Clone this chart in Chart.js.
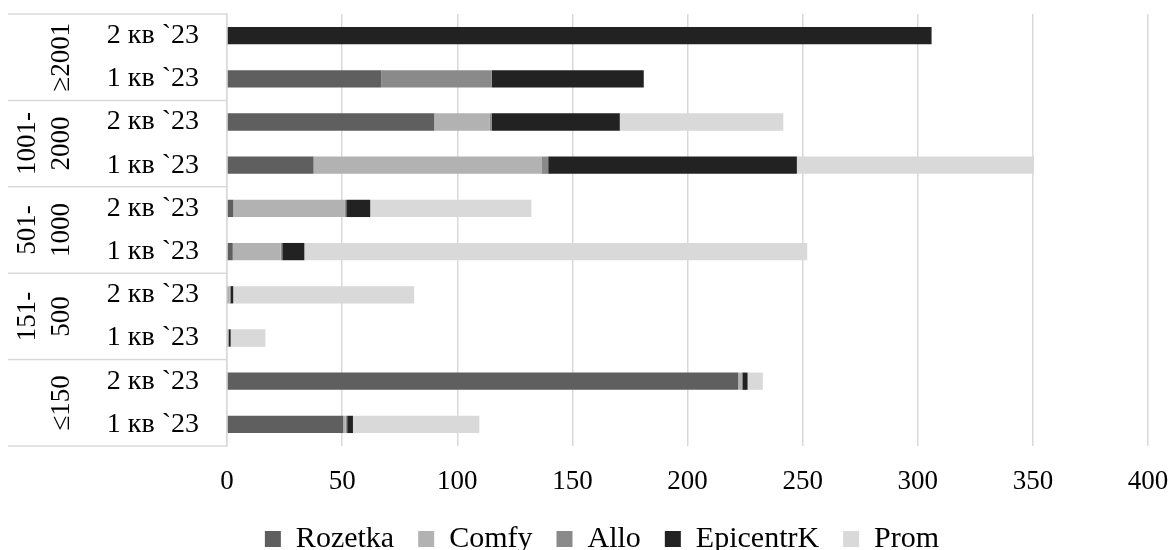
<!DOCTYPE html>
<html>
<head>
<meta charset="utf-8">
<script src="https://cdn.jsdelivr.net/npm/chart.js@4/dist/chart.umd.min.js"></script>
<style>
  body { margin: 0; background: #fff; }
  #wrap { width: 1172px; height: 550px; }
</style>
</head>
<body>
<div id="wrap"><canvas id="salesChart"></canvas></div>
<script>
// groups of sellers by price range, top to bottom
const groups = [['≥2001'], ['1001-', '2000'], ['501-', '1000'], ['151-', '500'], ['≤150']];
const quarters = ['2 кв `23', '1 кв `23'];

const rozetka   = [0,   67, 90,   37.6, 2.7,  2.5,   0.5,  0.3,  222, 50.5];
const comfy     = [0,   0,  24,   99.2, 48.5, 20.8,  0.7,  0.2,  1.8, 1.0];
const allo      = [0,   48, 0.9,  2.7,  0.6,  0.7,   0.3,  0.2,  0,   0.7];
const epicentrK = [306, 66, 55.7, 108,  10.4, 9.6,   1.2,  0.9,  2.3, 2.5];
const prom      = [0,   0,  71,   103,  70,   218.4, 78.6, 15.1, 6.6, 54.9];

const xTicks = [0, 50, 100, 150, 200, 250, 300, 350, 400];

const labels = [];
groups.forEach(() => quarters.forEach(q => labels.push(q)));

const serif = 'Liberation Serif';

// draws the grouping column on the left of the y axis
const groupLabels = {
  id: 'groupLabels',
  afterDraw(chart) {
    const ctx = chart.ctx;
    const y = chart.scales.y;
    const area = chart.chartArea;
    const per = quarters.length;
    ctx.save();
    ctx.strokeStyle = '#d9d9d9';
    ctx.lineWidth = 1.5;
    for (let g = 0; g <= groups.length; g++) {
      let yy;
      if (g === 0) yy = area.top;
      else if (g === groups.length) yy = area.bottom;
      else yy = (y.getPixelForTick(g * per - 1) + y.getPixelForTick(g * per)) / 2;
      ctx.beginPath();
      ctx.moveTo(8, yy);
      ctx.lineTo(area.left, yy);
      ctx.stroke();
    }
    ctx.fillStyle = '#000';
    ctx.font = '27px "' + serif + '"';
    ctx.textAlign = 'center';
    ctx.textBaseline = 'middle';
    groups.forEach((lines, g) => {
      const cy = (y.getPixelForTick(g * per) + y.getPixelForTick(g * per + per - 1)) / 2;
      lines.forEach((txt, i) => {
        const cx = 62 - (lines.length - 1 - i) * 34;
        ctx.save();
        ctx.translate(cx, cy);
        ctx.rotate(-Math.PI / 2);
        ctx.fillText(txt, 0, 0);
        ctx.restore();
      });
    });
    ctx.restore();
  }
};

new Chart(document.getElementById('salesChart'), {
  type: 'bar',
  data: {
    labels: labels,
    datasets: [
      { label: 'Rozetka', data: rozetka, backgroundColor: '#5f5f5f' },
      { label: 'Comfy', data: comfy, backgroundColor: '#b2b2b2' },
      { label: 'Allo', data: allo, backgroundColor: '#8a8a8a' },
      { label: 'EpicentrK', data: epicentrK, backgroundColor: '#222222' },
      { label: 'Prom', data: prom, backgroundColor: '#d9d9d9' }
    ]
  },
  options: {
    indexAxis: 'y',
    responsive: true,
    maintainAspectRatio: false,
    animation: false,
    categoryPercentage: 1,
    barPercentage: 0.4,
    layout: { padding: { left: 56, right: 24, top: 14, bottom: -14 } },
    scales: {
      x: {
        stacked: true,
        min: 0,
        max: 400,
        afterBuildTicks: axis => { axis.ticks = xTicks.map(v => ({ value: v })); },
        afterFit: axis => { axis.height = 54; axis.paddingLeft = 0; axis.paddingRight = 0; },
        grid: { color: '#d9d9d9', lineWidth: 1.5, drawTicks: false },
        border: { display: false },
        ticks: { color: '#000', padding: 20, font: { family: serif, size: 27 } }
      },
      y: {
        stacked: true,
        afterFit: axis => { axis.width = 171; axis.paddingTop = 0; axis.paddingBottom = 0; },
        grid: { display: false, drawTicks: false },
        border: { display: true, color: '#d9d9d9', width: 1.5 },
        ticks: { color: '#000', padding: 28, font: { family: serif, size: 28 } }
      }
    },
    plugins: {
      legend: {
        position: 'bottom',
        labels: { color: '#000', boxWidth: 16, boxHeight: 16, padding: 24, font: { family: serif, size: 30 } }
      },
      tooltip: { enabled: false }
    }
  },
  plugins: [groupLabels]
});
</script>
</body>
</html>
